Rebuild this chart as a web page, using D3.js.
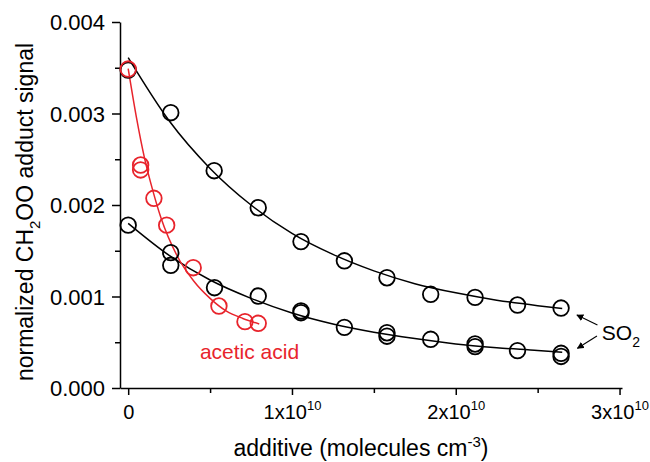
<!DOCTYPE html>
<html>
<head>
<meta charset="utf-8">
<script src="https://cdn.jsdelivr.net/npm/d3@7"></script>
<style>
  body { margin: 0; background: #fff; }
  svg { font-family: "Liberation Sans", Arial, Helvetica, sans-serif; }
</style>
</head>
<body>
<div id="chart"></div>
<script>
// additive concentration in units of 1e10 molecules cm^-3
const so2UpperX = [0, 0.26, 0.525, 0.794, 1.055, 1.32, 1.58, 1.847, 2.118, 2.377, 2.643];
const so2UpperY = [0.003475, 0.003009, 0.002375, 0.00197, 0.0016, 0.00139, 0.001205, 0.001024, 0.00099, 0.000907, 0.000874];

const so2LowerX = [0, 0.26, 0.26, 0.527, 0.794, 1.055, 1.055, 1.32, 1.58, 1.58, 1.847, 2.118, 2.118, 2.377, 2.643, 2.643];
const so2LowerY = [0.00178, 0.001479, 0.001341, 0.001096, 0.001005, 0.000842, 0.000823, 0.000663, 0.000604, 0.000566, 0.000532, 0.000481, 0.000452, 0.000408, 0.000379, 0.000345];

const aceticX = [0, 0.076, 0.076, 0.157, 0.235, 0.397, 0.554, 0.713, 0.794];
const aceticY = [0.003486, 0.002437, 0.002383, 0.002073, 0.00178, 0.001315, 0.000896, 0.000725, 0.000707];

// fitted curves
const fitUpperX = [0, 0.25, 0.5, 0.75, 1.0, 1.25, 1.5, 1.75, 2.0, 2.25, 2.5, 2.65];
const fitUpperY = [0.00361, 0.00292, 0.0024, 0.002, 0.00169, 0.00146, 0.00128, 0.00114, 0.00104, 0.00096, 0.0009, 0.00087];
const fitLowerX = [0, 0.25, 0.5, 0.75, 1.0, 1.25, 1.5, 1.75, 2.0, 2.25, 2.5, 2.65];
const fitLowerY = [0.0018, 0.00145, 0.00118, 0.00098, 0.00082, 0.0007, 0.00061, 0.00054, 0.00048, 0.00044, 0.00041, 0.00039];
const fitAceticX = [0, 0.05, 0.1, 0.15, 0.2, 0.3, 0.4, 0.5, 0.6, 0.7, 0.8];
const fitAceticY = [0.00349, 0.00296, 0.00251, 0.00216, 0.00186, 0.00144, 0.00117, 0.00098, 0.00084, 0.00076, 0.0007];

const xTicks = [0, 1, 2, 3];
const xMinor = [0.5, 1.5, 2.5];
const yTicks = [0, 0.001, 0.002, 0.003, 0.004];
const yMinor = [0.0005, 0.0015, 0.0025, 0.0035];

const width = 650, height = 462;
const red = '#e8242c';

const svg = d3.select('#chart').append('svg')
  .attr('width', width)
  .attr('height', height);

const x = d3.scaleLinear().domain([-0.05, 3.015]).range([120, 622]);
const y = d3.scaleLinear().domain([0, 0.004]).range([388, 22]);

// minor ticks first
svg.append('g')
  .attr('transform', 'translate(0,388)')
  .call(d3.axisBottom(x).tickValues(xMinor).tickSize(5).tickFormat(''))
  .call(g => g.select('.domain').remove());
svg.append('g')
  .attr('transform', 'translate(120,0)')
  .call(d3.axisLeft(y).tickValues(yMinor).tickSize(5).tickFormat(''))
  .call(g => g.select('.domain').remove());

const xAxis = svg.append('g')
  .attr('transform', 'translate(0,388)')
  .call(d3.axisBottom(x).tickValues(xTicks).tickSize(7).tickSizeOuter(0).tickFormat(''));
xAxis.selectAll('.tick').append('text')
  .attr('y', 31)
  .attr('fill', '#000')
  .attr('text-anchor', 'middle')
  .attr('font-size', 20)
  .each(function (d) {
    const t = d3.select(this);
    if (d === 0) { t.text('0'); return; }
    t.append('tspan').text(d + 'x10');
    t.append('tspan').attr('dy', -9).attr('font-size', 13).text('10');
  });

const yAxis = svg.append('g')
  .attr('transform', 'translate(120,0)')
  .call(d3.axisLeft(y).tickValues(yTicks).tickSize(8).tickSizeOuter(0).tickFormat(d3.format('.3f')));
yAxis.selectAll('.tick text')
  .attr('font-size', 22)
  .attr('x', -15)
  .attr('dy', '0.36em');

svg.selectAll('.domain, .tick line')
  .attr('stroke', '#000')
  .attr('stroke-width', 1.5);

// fit lines
const line = d3.line().x(d => x(d[0])).y(d => y(d[1])).curve(d3.curveMonotoneX);
const fits = [
  { xs: fitUpperX, ys: fitUpperY, color: '#000' },
  { xs: fitLowerX, ys: fitLowerY, color: '#000' },
  { xs: fitAceticX, ys: fitAceticY, color: red },
];
svg.selectAll('path.fit')
  .data(fits)
  .enter()
  .append('path')
  .attr('class', 'fit')
  .attr('d', d => line(d.xs.map((v, i) => [v, d.ys[i]])))
  .attr('fill', 'none')
  .attr('stroke', d => d.color)
  .attr('stroke-width', 1.5);

// circles
const series = [
  { xs: so2UpperX, ys: so2UpperY, color: '#000' },
  { xs: so2LowerX, ys: so2LowerY, color: '#000' },
  { xs: aceticX, ys: aceticY, color: red },
];
series.forEach(s => {
  svg.append('g')
    .selectAll('circle')
    .data(s.xs.map((v, i) => [v, s.ys[i]]))
    .enter()
    .append('circle')
    .attr('cx', d => x(d[0]))
    .attr('cy', d => y(d[1]))
    .attr('r', 7.8)
    .attr('fill', 'none')
    .attr('stroke', s.color)
    .attr('stroke-width', 1.8);
});

// labels
svg.append('text')
  .attr('x', x(0.438))
  .attr('y', y(0.000317))
  .attr('fill', red)
  .attr('font-size', 21)
  .text('acetic acid');

const so2 = svg.append('text')
  .attr('x', x(2.892))
  .attr('y', y(0.000525))
  .attr('font-size', 21);
so2.append('tspan').text('SO');
so2.append('tspan').attr('dy', 7).attr('font-size', 14).text('2');

svg.append('defs').append('marker')
  .attr('id', 'head')
  .attr('viewBox', '0 0 10 10')
  .attr('refX', 9).attr('refY', 5)
  .attr('markerWidth', 7).attr('markerHeight', 7)
  .attr('markerUnits', 'userSpaceOnUse')
  .attr('orient', 'auto')
  .append('path')
  .attr('d', 'M0,0L10,5L0,10Z')
  .attr('fill', '#000');

const arrows = [
  [2.865, 0.000689, 2.74, 0.000798],
  [2.862, 0.000568, 2.743, 0.000434],
];
svg.selectAll('line.arrow')
  .data(arrows)
  .enter()
  .append('line')
  .attr('class', 'arrow')
  .attr('x1', d => x(d[0])).attr('y1', d => y(d[1]))
  .attr('x2', d => x(d[2])).attr('y2', d => y(d[3]))
  .attr('stroke', '#000')
  .attr('stroke-width', 1.1)
  .attr('marker-end', 'url(#head)');

// axis titles
const yTitle = svg.append('text')
  .attr('transform', 'translate(33,212) rotate(-90)')
  .attr('text-anchor', 'middle')
  .attr('font-size', 23);
yTitle.append('tspan').text('normalized CH');
yTitle.append('tspan').attr('dy', 7).attr('font-size', 15).text('2');
yTitle.append('tspan').attr('dy', -7).text('OO adduct signal');

const xTitle = svg.append('text')
  .attr('x', 361)
  .attr('y', 456)
  .attr('text-anchor', 'middle')
  .attr('font-size', 23);
xTitle.append('tspan').text('additive (molecules cm');
xTitle.append('tspan').attr('dy', -9).attr('font-size', 15).text('-3');
xTitle.append('tspan').attr('dy', 9).text(')');
</script>
</body>
</html>
